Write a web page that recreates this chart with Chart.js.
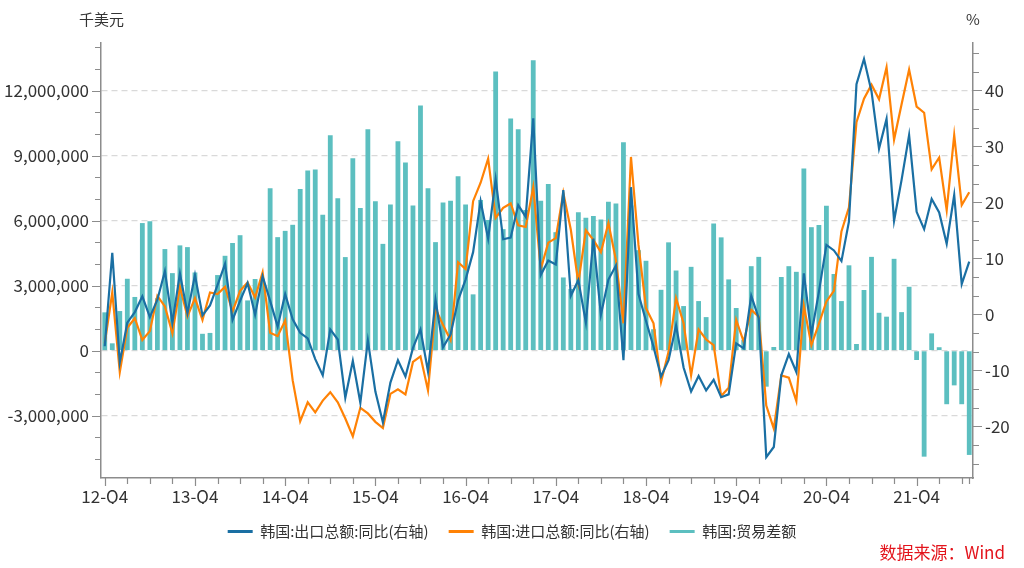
<!DOCTYPE html>
<html>
<head>
<meta charset="utf-8">
<script src="https://cdn.jsdelivr.net/npm/chart.js@4.4.1/dist/chart.umd.min.js"></script>
<style>
  html, body { margin: 0; padding: 0; background: #ffffff; }
  #wrap { position: relative; width: 1024px; height: 568px; overflow: hidden; }
  #c { position: absolute; left: 0; top: 0; }
  .t { position: absolute; font-family: "Noto Sans CJK SC", "Noto Sans", sans-serif; color: #333333; line-height: 1; white-space: nowrap; }
</style>
</head>
<body>
<div id="wrap">
  <canvas id="c" width="1024" height="568"></canvas>
  <div class="t" style="left:79px; top:11px; font-size:15px;">千美元</div>
  <div class="t" style="left:966px; top:11px; font-size:15px;">%</div>
  <div class="t" style="right:19px; top:543px; font-size:17px; color:#e3141c;">数据来源：Wind</div>
</div>
<script>
// ---------- DATA ----------
const startYear = 2012, startMonth = 12, monthCount = 116;   // 2012-12 .. 2022-07
const months = [];
for (let k = 0; k < monthCount; k++) {
  const m = (startMonth - 1 + k) % 12 + 1;
  const y = startYear + Math.floor((startMonth - 1 + k) / 12);
  months.push(y + '-' + (m < 10 ? '0' + m : m));
}

const yearTickLabels = ['12-Q4','13-Q4','14-Q4','15-Q4','16-Q4','17-Q4','18-Q4','19-Q4','20-Q4','21-Q4'];

const seriesNames = ['韩国:出口总额:同比(右轴)', '韩国:进口总额:同比(右轴)', '韩国:贸易差额'];

// 韩国:出口总额:同比 (%)
const exportYoY = [
  -5.7,
  11.0, -8.6, -1.5, 0.4, 3.2, -0.5, 2.6, 7.7, -1.5, 7.3, 0.2, 7.0,
  -0.2, 1.6, 5.2, 9.0, -1.0, 2.4, 5.6, -0.1, 6.8, 2.4, -2.2, 3.6,
  -0.9, -3.3, -4.3, -8.0, -10.9, -2.7, -4.5, -14.9, -8.3, -15.8, -4.7, -13.8,
  -19.3, -12.2, -8.2, -11.1, -6.0, -2.7, -10.2, 2.6, -5.9, -3.6, 2.5, 6.2,
  11.1, 20.2, 13.5, 24.1, 13.4, 13.7, 19.5, 17.4, 35.0, 7.0, 9.6, 8.9,
  22.2, 3.3, 6.1, -1.5, 13.5, -0.1, 6.2, 8.7, -8.2, 22.7, 3.6, -1.2,
  -5.8, -11.1, -8.2, -2.0, -9.5, -13.8, -11.0, -13.6, -11.7, -14.8, -14.3, -5.2,
  -6.1, 3.3, -0.7, -25.5, -23.7, -10.9, -7.1, -10.3, 7.3, -3.6, 4.0, 12.4,
  11.4, 9.5, 16.6, 41.1, 45.6, 39.8, 29.6, 34.9, 16.7, 24.0, 32.0, 18.3,
  15.2, 20.6, 18.2, 12.6, 21.3, 5.4, 9.4
];

// 韩国:进口总额:同比 (%)
const importYoY = [
  -5.2,
  3.9, -10.3, -2.4, -0.7, -4.6, -3.0, 3.3, 1.4, -3.4, 4.9, -0.4, 2.9,
  -1.0, 3.9, 3.6, 4.9, 0.5, 4.2, 5.7, 3.0, 7.5, -3.3, -3.9, -1.1,
  -11.8, -19.1, -15.7, -17.5, -15.4, -13.9, -15.7, -18.6, -21.8, -16.7, -17.7, -19.2,
  -20.3, -14.2, -13.4, -14.3, -8.5, -7.5, -13.6, 1.0, -1.9, -4.6, 9.3, 8.1,
  20.2, 23.5, 27.8, 17.2, 19.0, 19.8, 15.9, 15.6, 22.7, 8.1, 12.8, 13.6,
  21.7, 15.1, 5.6, 15.0, 13.3, 11.1, 16.3, 9.7, -1.6, 28.1, 12.4, 1.1,
  -1.6, -12.1, -6.7, 2.9, -1.6, -10.9, -2.7, -4.5, -5.5, -14.6, -13.1, -1.0,
  -4.9, 0.8, -0.4, -16.3, -20.4, -10.9, -11.3, -15.5, 1.5, -5.5, -1.7, 2.3,
  4.2, 14.8, 19.1, 34.3, 38.5, 41.0, 38.4, 44.1, 31.2, 37.5, 43.7, 37.1,
  36.0, 25.9, 28.0, 18.6, 32.0, 19.5, 21.8
];

// 韩国:贸易差额 (千美元)
const tradeBalance = [
  1770000,
  340000, 1830000, 3320000, 2480000, 5890000, 5970000, 2420000, 4690000, 3580000, 4860000, 4780000, 3610000,
  780000, 820000, 3490000, 4380000, 4970000, 5330000, 2320000, 3310000, 3290000, 7500000, 5240000, 5530000,
  5810000, 7460000, 8320000, 8360000, 6270000, 9940000, 7040000, 4320000, 8880000, 6580000, 10220000, 6900000,
  4930000, 6750000, 9670000, 8680000, 6700000, 11310000, 7500000, 5010000, 6840000, 6920000, 8050000, 6750000,
  2600000, 6950000, 6030000, 12880000, 5610000, 10710000, 10220000, 6490000, 13400000, 6920000, 7690000, 5470000,
  3380000, 2850000, 6390000, 6130000, 6220000, 6060000, 6870000, 6790000, 9620000, 6700000, 4640000, 4150000,
  990000, 2810000, 5000000, 3700000, 2060000, 3870000, 2290000, 1550000, 5870000, 5230000, 3290000, 1970000,
  500000, 3900000, 4330000, -1660000, 170000, 3400000, 3900000, 3640000, 8410000, 5700000, 5800000, 6690000,
  3540000, 2290000, 3940000, 310000, 2800000, 4330000, 1750000, 1570000, 4240000, 1780000, 2950000, -430000,
  -4890000, 800000, 160000, -2470000, -1600000, -2470000, -4810000
];

// ---------- STYLE ----------
const BLUE = '#1a6fa3';
const ORANGE = '#ff8205';
const TEAL = '#5cbfc0';
const AXIS = '#8c8c8c';
const TXT = '#333333';
const FONT = '"Noto Sans CJK SC", "Noto Sans", sans-serif';

const L_MIN = -5875000, L_MAX = 14200000, L_MINOR = 1000000, L_MAJOR = 3000000;
const R_MIN = -29.23, R_MAX = 48.45, R_MINOR = 10 / 3, R_MAJOR = 10;

const isMajor = (v, major) => Math.abs(v / major - Math.round(v / major)) < 1e-6;

function buildTicks(scale, minor) {
  const ticks = [];
  const k0 = Math.ceil(scale.min / minor - 1e-9), k1 = Math.floor(scale.max / minor + 1e-9);
  for (let k = k0; k <= k1; k++) ticks.push({ value: Math.round(k * minor * 1e6) / 1e6 });
  scale.ticks = ticks;
}

const tickMarks = {
  id: 'tickMarks',
  afterDraw(chart) {
    const ctx = chart.ctx;
    const { x, y, y1 } = chart.scales;
    ctx.save();
    ctx.strokeStyle = AXIS;
    ctx.lineWidth = 1.2;
    ctx.beginPath();
    const n = x.ticks.length;
    for (let i = 0; i < n; i++) {
      if (i % 3 === 0 || i === n - 1) {
        const px = Math.round(x.getPixelForTick(i)) + 0.5;
        const len = (i % 12 === 0) ? 8 : 6;
        ctx.moveTo(px, x.top);
        ctx.lineTo(px, x.top + len);
      }
    }
    y.ticks.forEach((t, i) => {
      const py = Math.round(y.getPixelForTick(i)) + 0.5;
      const len = isMajor(t.value, L_MAJOR) ? 9 : 6;
      ctx.moveTo(y.right, py);
      ctx.lineTo(y.right - len, py);
    });
    y1.ticks.forEach((t, i) => {
      const py = Math.round(y1.getPixelForTick(i)) + 0.5;
      const len = isMajor(t.value, R_MAJOR) ? 9 : 6;
      ctx.moveTo(y1.left, py);
      ctx.lineTo(y1.left + len, py);
    });
    ctx.stroke();
    ctx.restore();
  }
};

new Chart(document.getElementById('c'), {
  type: 'bar',
  data: {
    labels: months,
    datasets: [
      {
        type: 'line', label: seriesNames[0], data: exportYoY, yAxisID: 'y1',
        borderColor: BLUE, backgroundColor: BLUE, borderWidth: 2.2,
        pointRadius: 0, tension: 0, fill: false
      },
      {
        type: 'line', label: seriesNames[1], data: importYoY, yAxisID: 'y1',
        borderColor: ORANGE, backgroundColor: ORANGE, borderWidth: 2.2,
        pointRadius: 0, tension: 0, fill: false
      },
      {
        type: 'bar', label: seriesNames[2], data: tradeBalance, yAxisID: 'y',
        backgroundColor: TEAL, borderWidth: 0,
        barPercentage: 0.64, categoryPercentage: 1.0
      }
    ]
  },
  options: {
    responsive: false,
    animation: false,
    devicePixelRatio: 1,
    layout: { padding: { top: 43, bottom: 19, left: 0, right: 0 } },
    plugins: {
      tooltip: { enabled: false },
      legend: {
        position: 'bottom',
        align: 'center',
        labels: {
          boxWidth: 25,
          boxHeight: 3,
          padding: 20,
          color: TXT,
          font: { family: FONT, size: 15 },
          generateLabels(chart) {
            return chart.data.datasets.map((ds, i) => ({
              text: ds.label,
              fillStyle: ds.type === 'bar' ? TEAL : ds.borderColor,
              strokeStyle: ds.type === 'bar' ? TEAL : ds.borderColor,
              lineWidth: 0,
              hidden: false,
              datasetIndex: i,
              fontColor: TXT
            }));
          }
        }
      }
    },
    scales: {
      x: {
        type: 'category',
        offset: true,
        afterFit(s) { s.height = 26; },
        grid: { display: true, offset: false, drawOnChartArea: false, drawTicks: false },
        border: { display: true, color: AXIS, width: 1.5 },
        ticks: {
          autoSkip: false, maxRotation: 0, minRotation: 0, padding: 8,
          color: TXT, font: { family: FONT, size: 17 },
          callback(v, i) { return (i % 12 === 0) ? yearTickLabels[i / 12] : ''; }
        }
      },
      y: {
        type: 'linear', position: 'left',
        min: L_MIN, max: L_MAX,
        afterFit(s) { s.width = 101; },
        afterBuildTicks(s) { buildTicks(s, L_MINOR); },
        grid: {
          drawTicks: false,
          color(ctx) { return (ctx.tick && isMajor(ctx.tick.value, L_MAJOR)) ? '#d9d9d9' : 'rgba(0,0,0,0)'; },
          lineWidth: 1.2
        },
        border: { display: true, color: AXIS, width: 1.5, dash: [6, 4] },
        ticks: {
          autoSkip: false, padding: 12, color: TXT,
          font: { family: FONT, size: 17 },
          callback(v) { return isMajor(v, L_MAJOR) ? Math.round(v).toLocaleString('en-US') : ''; }
        }
      },
      y1: {
        type: 'linear', position: 'right',
        min: R_MIN, max: R_MAX,
        afterFit(s) { s.width = 51; },
        afterBuildTicks(s) { buildTicks(s, R_MINOR); },
        grid: { drawOnChartArea: false, drawTicks: false },
        border: { display: true, color: AXIS, width: 1.5 },
        ticks: {
          autoSkip: false, padding: 12, color: TXT,
          font: { family: FONT, size: 17 },
          callback(v) { return isMajor(v, R_MAJOR) ? String(Math.round(v)) : ''; }
        }
      }
    }
  },
  plugins: [tickMarks]
});
</script>
</body>
</html>
